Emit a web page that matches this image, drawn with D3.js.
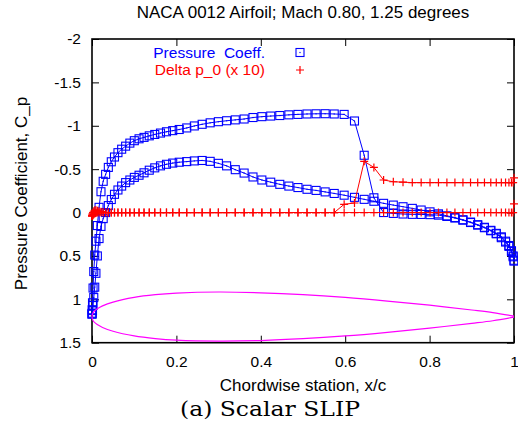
<!DOCTYPE html>
<html>
<head>
<meta charset="utf-8">
<script src="https://cdn.jsdelivr.net/npm/d3@7"></script>
<style>
  body { margin: 0; background: #fff; }
  svg text { font-family: "Liberation Sans", Arial, sans-serif; }
</style>
</head>
<body>
<svg id="chart" width="518" height="428"></svg>
<script>
// chordwise stations x/c (same grid on both surfaces)
const stations = [0, 0.0004, 0.0012, 0.0025, 0.0042, 0.0065, 0.0093, 0.0127, 0.0167, 0.0213,
  0.0265, 0.0323, 0.0387, 0.0457, 0.0533, 0.0615, 0.0703, 0.0797, 0.0897, 0.1003,
  0.1115, 0.1233, 0.1357, 0.1487, 0.1623, 0.1765, 0.1913, 0.2067, 0.2245, 0.2425,
  0.261, 0.28, 0.2995, 0.319, 0.3395, 0.3605, 0.3815, 0.4025, 0.4235, 0.445,
  0.4665, 0.488, 0.5095, 0.531, 0.5525, 0.574, 0.5975, 0.622, 0.645, 0.668,
  0.691, 0.714, 0.737, 0.759, 0.78, 0.801, 0.821, 0.841, 0.86, 0.879,
  0.897, 0.914, 0.93, 0.945, 0.958, 0.97, 0.98, 0.988, 0.994, 0.998,
  1.0];

// pressure coefficient, upper surface
const cpUpper = [1.17, 1.12, 1.04, 0.87, 0.68, 0.49, 0.33, 0.15, -0.06, -0.24,
  -0.36, -0.44, -0.52, -0.585, -0.64, -0.69, -0.73, -0.765, -0.8, -0.828,
  -0.85, -0.866, -0.884, -0.9, -0.916, -0.931, -0.944, -0.957, -0.975, -0.998,
  -1.017, -1.034, -1.047, -1.058, -1.068, -1.078, -1.095, -1.105, -1.112, -1.118,
  -1.126, -1.131, -1.136, -1.138, -1.139, -1.136, -1.131, -1.055, -0.66, -0.17,
  0.0, 0.01, 0.017, 0.021, 0.022, 0.024, 0.03, 0.045, 0.063, 0.088,
  0.115, 0.145, 0.175, 0.21, 0.245, 0.29, 0.34, 0.39, 0.45, 0.51,
  0.56];

// pressure coefficient, lower surface
const cpLower = [1.17, 1.16, 1.13, 1.07, 0.98, 0.86, 0.7, 0.5, 0.3, 0.16,
  0.07, 0.0, -0.08, -0.15, -0.21, -0.26, -0.305, -0.345, -0.375, -0.405,
  -0.43, -0.458, -0.488, -0.515, -0.538, -0.556, -0.57, -0.58, -0.587, -0.595,
  -0.6, -0.59, -0.567, -0.538, -0.494, -0.455, -0.41, -0.375, -0.35, -0.325,
  -0.305, -0.288, -0.268, -0.255, -0.238, -0.22, -0.2, -0.175, -0.152, -0.13,
  -0.106, -0.086, -0.067, -0.048, -0.029, -0.008, 0.015, 0.038, 0.058, 0.083,
  0.11, 0.14, 0.17, 0.205, 0.24, 0.28, 0.33, 0.38, 0.44, 0.5,
  0.55];

// total pressure loss x 10
const dp0Upper = [0.04, 0.03, 0.015, 0.0, -0.015, -0.025, -0.025, -0.02, -0.015, -0.01,
  -0.005, 0, 0, 0, 0, 0, 0, 0, 0, 0,
  0, 0, 0, 0, 0, 0, 0, 0, 0, 0,
  0, 0, 0, 0, 0, 0, 0, 0, 0, 0,
  0, 0, 0, 0, 0, 0, -0.095, -0.11, -0.59, -0.52,
  -0.375, -0.355, -0.35, -0.345, -0.345, -0.345, -0.345, -0.345, -0.345, -0.345,
  -0.345, -0.345, -0.345, -0.345, -0.345, -0.345, -0.345, -0.345, -0.345, -0.345,
  -0.4];

const dp0Lower = [0.04, 0.04, 0.035, 0.03, 0.02, 0.01, 0.005, 0, 0, 0,
  0, 0, 0, 0, 0, 0, 0, 0, 0, 0,
  0, 0, 0, 0, 0, 0, 0, 0, 0, 0,
  0, 0, 0, 0, 0, 0, 0, 0, 0, 0,
  0, 0, 0, 0, 0, 0, 0, 0, 0, 0,
  0, 0, 0, 0, 0, 0, 0, 0, 0, 0,
  0, 0, 0, 0, 0, 0, 0, 0, 0, 0,
  -0.1];

// airfoil outline as drawn on the chart (in C_p units)
const airfoilX = [0, 0.002, 0.006, 0.0125, 0.025, 0.05, 0.1, 0.15, 0.2, 0.3, 0.4, 0.5, 0.6, 0.7, 0.8, 0.9, 0.95, 1];
const airfoilUpper = [1.2, 1.16, 1.135, 1.11, 1.076, 1.032, 0.978, 0.947, 0.929, 0.916, 0.925, 0.946, 0.978, 1.02, 1.068, 1.123, 1.153, 1.194];
const airfoilLower = [1.2, 1.24, 1.265, 1.29, 1.324, 1.368, 1.422, 1.453, 1.471, 1.482, 1.475, 1.454, 1.422, 1.38, 1.332, 1.277, 1.247, 1.206];

const xTicks = [0, 0.2, 0.4, 0.6, 0.8, 1];
const yTicks = [-2, -1.5, -1, -0.5, 0, 0.5, 1, 1.5];
const seriesNames = ['Pressure  Coeff.', 'Delta p_0 (x 10)'];

const svg = d3.select('#chart');
svg.append('rect').attr('width', 518).attr('height', 428).attr('fill', '#fff');

const margin = { top: 39, right: 4, bottom: 85.3, left: 92 };
const width = 518 - margin.left - margin.right;
const height = 428 - margin.top - margin.bottom;

const x = d3.scaleLinear().domain([0, 1]).range([0, width]);
const y = d3.scaleLinear().domain([-2, 1.5]).range([0, height]);

const g = svg.append('g').attr('transform', `translate(${margin.left},${margin.top})`);

// axes, gnuplot style: ticks inside on all four sides
function styleAxis(sel) {
  sel.select('.domain').remove();
  sel.attr('font-size', 15.5).attr('font-family', '"Liberation Sans", Arial, sans-serif');
  sel.selectAll('.tick line').attr('stroke', '#000').attr('stroke-width', 1);
  sel.selectAll('.tick text').attr('fill', '#000');
}

g.append('g')
  .attr('transform', `translate(0,${height})`)
  .call(d3.axisBottom(x).tickValues(xTicks).tickFormat(d => d).tickSizeInner(-7).tickSizeOuter(0).tickPadding(13))
  .call(styleAxis);

g.append('g')
  .call(d3.axisTop(x).tickValues(xTicks).tickFormat('').tickSizeInner(-7).tickSizeOuter(0))
  .call(styleAxis);

g.append('g')
  .call(d3.axisLeft(y).tickValues(yTicks).tickFormat(d => d).tickSizeInner(-7).tickSizeOuter(0).tickPadding(11))
  .call(styleAxis);

g.append('g')
  .attr('transform', `translate(${width},0)`)
  .call(d3.axisRight(y).tickValues(yTicks).tickFormat('').tickSizeInner(-7).tickSizeOuter(0))
  .call(styleAxis);

g.append('rect')
  .attr('width', width)
  .attr('height', height)
  .attr('fill', 'none')
  .attr('stroke', '#000')
  .attr('stroke-width', 1.6);

const line = d3.line().x(d => x(d[0])).y(d => y(d[1]));

const cpSurfaces = [
  stations.map((s, i) => [s, cpUpper[i]]),
  stations.map((s, i) => [s, cpLower[i]])
];
const dpSurfaces = [
  stations.map((s, i) => [s, dp0Upper[i]]),
  stations.map((s, i) => [s, dp0Lower[i]])
];

const blue = '#0000ff';
const red = '#ff0000';

// pressure coefficient: open squares with a centre dot
cpSurfaces.forEach(pts => {
  g.append('path')
    .attr('d', line(pts))
    .attr('fill', 'none')
    .attr('stroke', blue)
    .attr('stroke-width', 1);

  const m = g.append('g').selectAll('g')
    .data(pts)
    .join('g')
    .attr('transform', d => `translate(${x(d[0])},${y(d[1])})`);
  m.append('rect')
    .attr('x', -4).attr('y', -4).attr('width', 8).attr('height', 8)
    .attr('fill', 'none').attr('stroke', blue).attr('stroke-width', 1.1);
  m.append('rect')
    .attr('x', -0.6).attr('y', -0.6).attr('width', 1.2).attr('height', 1.2)
    .attr('fill', blue);
});

// delta p_0: plus markers
dpSurfaces.forEach(pts => {
  g.append('path')
    .attr('d', line(pts))
    .attr('fill', 'none')
    .attr('stroke', red)
    .attr('stroke-width', 1);

  g.append('g').selectAll('path')
    .data(pts)
    .join('path')
    .attr('transform', d => `translate(${x(d[0])},${y(d[1])})`)
    .attr('d', 'M-4,0H4M0,-4V4')
    .attr('stroke', red)
    .attr('stroke-width', 1.2);
});

// airfoil outline
const outline = airfoilX.map((s, i) => [s, airfoilUpper[i]]).reverse()
  .concat(airfoilX.slice(1).map((s, i) => [s, airfoilLower[i + 1]]));
g.append('path')
  .attr('d', d3.line().x(d => x(d[0])).y(d => y(d[1])).curve(d3.curveCatmullRom)(outline))
  .attr('fill', 'none')
  .attr('stroke', '#ff00ff')
  .attr('stroke-width', 1.2);

// legend
const legend = svg.append('g').attr('font-size', 15.5);
legend.append('text')
  .attr('x', 265).attr('y', 58)
  .attr('text-anchor', 'end')
  .attr('fill', blue)
  .style('white-space', 'pre')
  .text(seriesNames[0]);
legend.append('rect')
  .attr('x', 296).attr('y', 48.5).attr('width', 8).attr('height', 8)
  .attr('fill', 'none').attr('stroke', blue).attr('stroke-width', 1.1);
legend.append('rect')
  .attr('x', 299.4).attr('y', 51.9).attr('width', 1.2).attr('height', 1.2)
  .attr('fill', blue);
legend.append('text')
  .attr('x', 265).attr('y', 75)
  .attr('text-anchor', 'end')
  .attr('fill', red)
  .text(seriesNames[1]);
legend.append('path')
  .attr('d', 'M296,70H304M300,66V74')
  .attr('stroke', red)
  .attr('stroke-width', 1.2);

// titles
svg.append('text')
  .attr('x', 303).attr('y', 18.3)
  .attr('text-anchor', 'middle')
  .attr('font-size', 17)
  .text('NACA 0012 Airfoil; Mach 0.80, 1.25 degrees');

svg.append('text')
  .attr('x', 303).attr('y', 391)
  .attr('text-anchor', 'middle')
  .attr('font-size', 17)
  .text('Chordwise station, x/c');

svg.append('text')
  .attr('transform', 'translate(27,193.5) rotate(-90)')
  .attr('text-anchor', 'middle')
  .attr('font-size', 17)
  .text('Pressure Coefficient, C_p');

svg.append('text')
  .attr('x', 270).attr('y', 416)
  .attr('text-anchor', 'middle')
  .attr('font-size', 21)
  .attr('textLength', 180)
  .attr('lengthAdjust', 'spacingAndGlyphs')
  .style('font-family', '"DejaVu Serif", "Liberation Serif", serif')
  .text('(a) Scalar SLIP');
</script>
</body>
</html>
